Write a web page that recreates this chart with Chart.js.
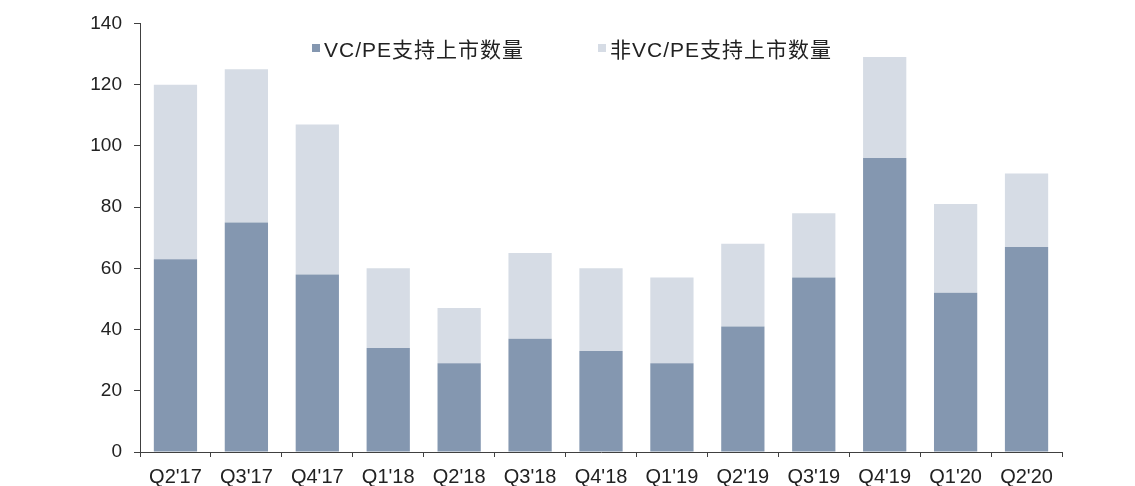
<!DOCTYPE html>
<html>
<head>
<meta charset="utf-8">
<script src="https://cdn.jsdelivr.net/npm/chart.js@4/dist/chart.umd.min.js"></script>
<style>
    html, body { margin: 0; padding: 0; background: #ffffff; }
    #wrap { position: relative; width: 1135px; height: 486px; }
    #legend {
        position: absolute;
        top: 33px;
        left: 312px;
        font-family: "Liberation Sans", Arial, "Noto Sans CJK SC", sans-serif;
        font-size: 21px;
        letter-spacing: 1px;
        color: #222222;
        white-space: nowrap;
    }
    .legend-item { position: absolute; top: 0; display: flex; align-items: center; }
    .legend-box { width: 8px; height: 8px; margin-right: 4px; }
</style>
</head>
<body>
<div id="wrap">
    <canvas id="ipoChart" width="1135" height="486"></canvas>
    <div id="legend"></div>
</div>
<script>
// Quarters and listing counts
const quarters = ["Q2'17", "Q3'17", "Q4'17", "Q1'18", "Q2'18", "Q3'18", "Q4'18",
                  "Q1'19", "Q2'19", "Q3'19", "Q4'19", "Q1'20", "Q2'20"];
const vcpeCounts = [63, 75, 58, 34, 29, 37, 33, 29, 41, 57, 96, 52, 67];
const nonVcpeCounts = [57, 50, 49, 26, 18, 28, 27, 28, 27, 21, 33, 29, 24];
const yTicks = [0, 20, 40, 60, 80, 100, 120, 140];

const fontFamily = '"Liberation Sans", Arial, "Noto Sans CJK SC", sans-serif';

document.addEventListener('DOMContentLoaded', function() {
    const ctx = document.getElementById('ipoChart').getContext('2d');
    const chart = new Chart(ctx, {
        type: 'bar',
        data: {
            labels: quarters,
            datasets: [
                {
                    label: 'VC/PE支持上市数量',
                    data: vcpeCounts,
                    backgroundColor: '#8497B0',
                    borderWidth: 0
                },
                {
                    label: '非VC/PE支持上市数量',
                    data: nonVcpeCounts,
                    backgroundColor: '#D6DCE5',
                    borderWidth: 0
                }
            ]
        },
        options: {
            responsive: false,
            animation: false,
            layout: {
                padding: { left: 0, right: 73, top: 23, bottom: 0 }
            },
            datasets: {
                bar: { categoryPercentage: 1, barPercentage: 0.61 }
            },
            plugins: {
                tooltip: { enabled: false },
                legend: { display: false }
            },
            scales: {
                x: {
                    stacked: true,
                    afterFit: function(scale) { scale.height = 34; },
                    grid: {
                        display: true,
                        drawOnChartArea: false,
                        offset: true,
                        tickLength: 5,
                        color: '#404040'
                    },
                    border: { display: true, color: '#404040', width: 1 },
                    ticks: {
                        color: '#222222',
                        padding: 8,
                        font: { family: fontFamily, size: 20 }
                    }
                },
                y: {
                    stacked: true,
                    min: yTicks[0],
                    max: yTicks[yTicks.length - 1],
                    afterFit: function(scale) { scale.width = 140; },
                    afterBuildTicks: function(scale) {
                        scale.ticks = yTicks.map(v => ({ value: v }));
                    },
                    grid: {
                        display: true,
                        drawOnChartArea: false,
                        tickLength: 6,
                        color: '#404040'
                    },
                    border: { display: true, color: '#404040', width: 1 },
                    ticks: {
                        color: '#222222',
                        padding: 12,
                        font: { family: fontFamily, size: 19 }
                    }
                }
            }
        }
    });

    // Build the legend as real text from the datasets
    const legend = document.getElementById('legend');
    const itemOffsets = [0, 286];
    chart.data.datasets.forEach((ds, i) => {
        const item = document.createElement('div');
        item.className = 'legend-item';
        item.style.left = itemOffsets[i] + 'px';
        const box = document.createElement('span');
        box.className = 'legend-box';
        box.style.background = ds.backgroundColor;
        const text = document.createElement('span');
        text.textContent = ds.label;
        item.appendChild(box);
        item.appendChild(text);
        legend.appendChild(item);
    });
});
</script>
</body>
</html>
